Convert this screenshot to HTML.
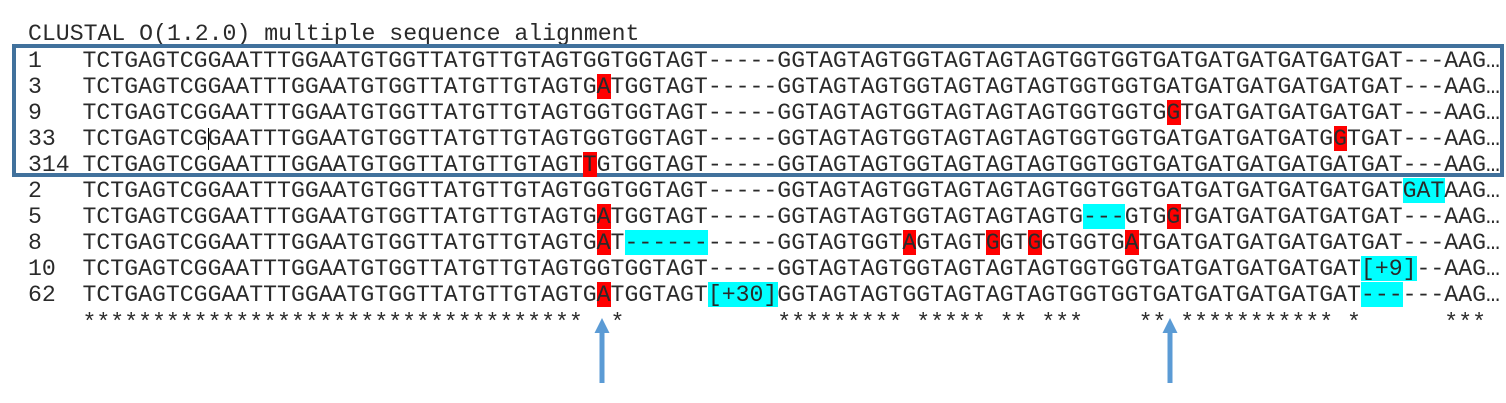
<!DOCTYPE html>
<html><head><meta charset="utf-8">
<style>
html,body{margin:0;padding:0;background:#fff;}
body{width:1506px;height:403px;position:relative;overflow:hidden;}
.t{position:absolute;font-family:"Liberation Mono","DejaVu Sans Mono",monospace;font-size:23.1667px;line-height:26px;height:26px;white-space:pre;color:#2a2a2a;}
.hl{position:absolute;height:25px;}
.red{background:#ff0000;}
.cy{background:#00ffff;}
#box{position:absolute;left:12px;top:44px;width:1484px;height:125px;border:4px solid #41719c;}
.arrow{position:absolute;}
</style></head>
<body>
<div class="t" style="left:28px;top:21px;">CLUSTAL O(1.2.0) multiple sequence alignment</div>
<div id="box"></div>
<div id="rows"></div>
<svg class="arrow" style="left:590px;top:314px" width="24" height="72"><polygon points="12,4 19.5,19 14.5,19 14.5,69 9.5,69 9.5,19 4.5,19" fill="#5b9bd5"/></svg>
<svg class="arrow" style="left:1158px;top:314px" width="24" height="72"><polygon points="12,4 19.5,19 14.5,19 14.5,69 9.5,69 9.5,19 4.5,19" fill="#5b9bd5"/></svg>
<script>
const labels=["1","3","9","33","314","2","5","8","10","62"];
const seqs=[
"TCTGAGTCGGAATTTGGAATGTGGTTATGTTGTAGTGGTGGTAGT-----GGTAGTAGTGGTAGTAGTAGTGGTGGTGATGATGATGATGATGAT---AAG…",
"TCTGAGTCGGAATTTGGAATGTGGTTATGTTGTAGTGATGGTAGT-----GGTAGTAGTGGTAGTAGTAGTGGTGGTGATGATGATGATGATGAT---AAG…",
"TCTGAGTCGGAATTTGGAATGTGGTTATGTTGTAGTGGTGGTAGT-----GGTAGTAGTGGTAGTAGTAGTGGTGGTGGTGATGATGATGATGAT---AAG…",
"TCTGAGTCGGAATTTGGAATGTGGTTATGTTGTAGTGGTGGTAGT-----GGTAGTAGTGGTAGTAGTAGTGGTGGTGATGATGATGATGGTGAT---AAG…",
"TCTGAGTCGGAATTTGGAATGTGGTTATGTTGTAGTTGTGGTAGT-----GGTAGTAGTGGTAGTAGTAGTGGTGGTGATGATGATGATGATGAT---AAG…",
"TCTGAGTCGGAATTTGGAATGTGGTTATGTTGTAGTGGTGGTAGT-----GGTAGTAGTGGTAGTAGTAGTGGTGGTGATGATGATGATGATGATGATAAG…",
"TCTGAGTCGGAATTTGGAATGTGGTTATGTTGTAGTGATGGTAGT-----GGTAGTAGTGGTAGTAGTAGTG---GTGGTGATGATGATGATGAT---AAG…",
"TCTGAGTCGGAATTTGGAATGTGGTTATGTTGTAGTGAT-----------GGTAGTGGTAGTAGTGGTGGTGGTGATGATGATGATGATGATGAT---AAG…",
"TCTGAGTCGGAATTTGGAATGTGGTTATGTTGTAGTGGTGGTAGT-----GGTAGTAGTGGTAGTAGTAGTGGTGGTGATGATGATGATGAT[+9]--AAG…",
"TCTGAGTCGGAATTTGGAATGTGGTTATGTTGTAGTGATGGTAGT[+30]GGTAGTAGTGGTAGTAGTAGTGGTGGTGATGATGATGATGAT------AAG…"
];
// highlights: [rowIndex, startCol, length, colour]
const highlights=[
[1,37,1,"red"],[2,78,1,"red"],[3,90,1,"red"],[4,36,1,"red"],
[5,95,3,"cy"],
[6,37,1,"red"],[6,72,3,"cy"],[6,78,1,"red"],
[7,37,1,"red"],[7,39,6,"cy"],[7,59,1,"red"],[7,65,1,"red"],[7,68,1,"red"],[7,75,1,"red"],
[8,92,4,"cy"],
[9,37,1,"red"],[9,45,5,"cy"],[9,92,3,"cy"]
];
const starCols=[0,1,2,3,4,5,6,7,8,9,10,11,12,13,14,15,16,17,18,19,20,21,22,23,24,25,26,27,28,29,30,31,32,33,34,35,38,50,51,52,53,54,55,56,57,58,60,61,62,63,64,66,67,69,70,71,76,77,79,80,81,82,83,84,85,86,87,88,89,91,98,99,100];

const CW=13.9, X0=82.5, Y0=48, RH=26;
const root=document.getElementById('rows');
highlights.forEach(h=>{
  const d=document.createElement('div');
  d.className='hl '+h[3];
  d.style.left=(X0+h[1]*CW)+'px';
  d.style.width=(h[2]*CW)+'px';
  d.style.top=(Y0+h[0]*RH)+'px';
  
  
  root.appendChild(d);
});
labels.forEach((lab,i)=>{
  const l=document.createElement('div');
  l.className='t';
  l.style.left='28px';
  l.style.top=(Y0+i*RH)+'px';
  l.textContent=lab;
  
  
  root.appendChild(l);
  const s=document.createElement('div');
  s.className='t';
  s.style.left=X0+'px';
  s.style.top=(Y0+i*RH)+'px';
  s.textContent=seqs[i];
  
  
  root.appendChild(s);
});
let st=[];for(let i=0;i<=100;i++)st.push(' ');
starCols.forEach(c=>st[c]='*');
const sr=document.createElement('div');
sr.className='t';
sr.style.left=X0+'px';
sr.style.top=(Y0+10*RH+2)+'px';
sr.textContent=st.join('');


root.appendChild(sr);
const cur=document.createElement('div');
cur.style.cssText='position:absolute;width:1px;background:#000;height:22px;left:'+(X0+9*CW)+'px;top:'+(Y0+3*RH+2)+'px';


root.appendChild(cur);
</script>
</body></html>
